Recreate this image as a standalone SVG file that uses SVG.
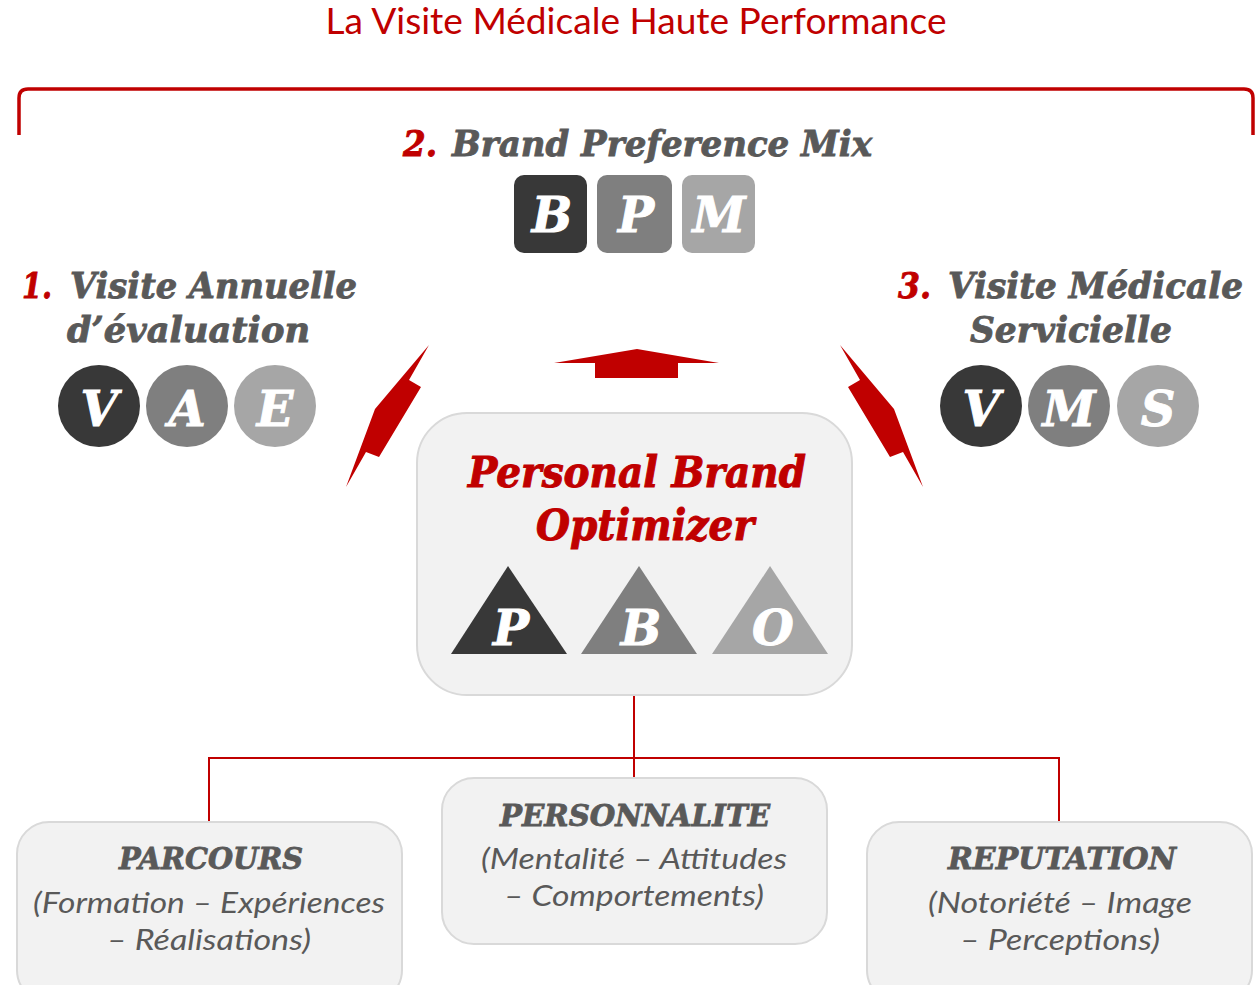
<svg xmlns="http://www.w3.org/2000/svg" width="1259" height="985" viewBox="0 0 1259 985">
<style>
.slab{font-family:"DejaVu Serif","Liberation Serif",serif;font-weight:bold;font-style:italic}
.head{fill:#595959;stroke:#595959;stroke-width:0.9;font-size:36px}
.num{fill:#c00000;stroke:#c00000;stroke-width:0.9;font-size:36px}
.let{fill:#ffffff;stroke:#ffffff;stroke-width:0.9;font-size:48px;text-anchor:middle}
.body{font-family:Lato,"Open Sans","Liberation Sans",sans-serif;font-style:italic;fill:#595959;font-size:29px;text-anchor:middle}
.box{fill:#f2f2f2;stroke:#d9d9d9;stroke-width:2}
.c1{fill:#383838}.c2{fill:#7f7f7f}.c3{fill:#a6a6a6}
.red{fill:#c00000}
.conn{fill:none;stroke:#c00000;stroke-width:2}
.pb{fill:#c00000;stroke:#c00000;stroke-width:1}
.sub{fill:#595959;stroke:#595959;stroke-width:0.8}
</style>
<rect width="1259" height="985" fill="#ffffff"/>
<text x="636" y="34" text-anchor="middle" font-family="Lato,'Open Sans','Liberation Sans',sans-serif" font-size="36" fill="#c00000" textLength="621" lengthAdjust="spacingAndGlyphs">La Visite Médicale Haute Performance</text>
<path d="M19,135 V98 Q19,89 28,89 H1244 Q1253,89 1253,98 V135" fill="none" stroke="#c00000" stroke-width="3.5"/>

<g id="bpm">
<text class="slab num" x="403" y="156" textLength="34" lengthAdjust="spacingAndGlyphs">2.</text>
<text class="slab head" x="452" y="156" textLength="420" lengthAdjust="spacingAndGlyphs">Brand Preference Mix</text>
<rect class="c1" x="514" y="175" width="73" height="78" rx="10"/>
<rect class="c2" x="597" y="175" width="75" height="78" rx="10"/>
<rect class="c3" x="682" y="175" width="73" height="78" rx="10"/>
<text class="slab let" x="552" y="232">B</text>
<text class="slab let" x="636" y="232">P</text>
<text class="slab let" x="719" y="232">M</text>
</g>

<g id="vae">
<text class="slab num" x="22" y="298" textLength="30" lengthAdjust="spacingAndGlyphs">1.</text>
<text class="slab head" x="70" y="298" textLength="287" lengthAdjust="spacingAndGlyphs">Visite Annuelle</text>
<text class="slab head" x="67" y="342" textLength="243" lengthAdjust="spacingAndGlyphs">d’évaluation</text>
<circle class="c1" cx="99" cy="406" r="41"/>
<circle class="c2" cx="187" cy="406" r="41"/>
<circle class="c3" cx="275" cy="406" r="41"/>
<text class="slab let" x="99" y="426">V</text>
<text class="slab let" x="187" y="426">A</text>
<text class="slab let" x="275" y="426">E</text>
</g>

<g id="vms">
<text class="slab num" x="898" y="298" textLength="33" lengthAdjust="spacingAndGlyphs">3.</text>
<text class="slab head" x="948" y="298" textLength="295" lengthAdjust="spacingAndGlyphs">Visite Médicale</text>
<text class="slab head" x="970" y="342" textLength="202" lengthAdjust="spacingAndGlyphs">Servicielle</text>
<circle class="c1" cx="981" cy="406" r="41"/>
<circle class="c2" cx="1069" cy="406" r="41"/>
<circle class="c3" cx="1158" cy="406" r="41"/>
<text class="slab let" x="981" y="426">V</text>
<text class="slab let" x="1069" y="426">M</text>
<text class="slab let" x="1158" y="426">S</text>
</g>

<g id="arrows">
<polygon class="red" points="429,345 409,380 421,387 379,457 366,452 346,487 375,409"/>
<polygon class="red" points="840,345 860,380 848,387 890,457 903,452 923,487 894,409"/>
<polygon class="red" points="637,349 719,363 678,363 678,378 595,378 595,363 554,363"/>
</g>

<g id="connectors">
<path class="conn" d="M634,695 V778"/>
<path class="conn" d="M209,822 V758 H1059 V822"/>
</g>

<g id="pbo">
<rect class="box" x="417" y="413" width="435" height="282" rx="50"/>
<text class="slab pb" x="637" y="487" text-anchor="middle" font-size="42" textLength="338" lengthAdjust="spacingAndGlyphs">Personal Brand</text>
<text class="slab pb" x="645" y="540" text-anchor="middle" font-size="42" textLength="218" lengthAdjust="spacingAndGlyphs">Optimizer</text>
<polygon class="c1" points="508,566 567,654 451,654"/>
<polygon class="c2" points="639,566 697,654 581,654"/>
<polygon class="c3" points="770,566 828,654 712,654"/>
<text class="slab let" x="511" y="645">P</text>
<text class="slab let" x="641" y="645">B</text>
<text class="slab let" x="773" y="645">O</text>
</g>

<g id="parcours">
<rect class="box" x="17" y="822" width="385" height="180" rx="32"/>
<text class="slab sub" x="211" y="869" text-anchor="middle" font-size="30" textLength="184" lengthAdjust="spacingAndGlyphs">PARCOURS</text>
<text class="body" x="209" y="913" textLength="352" lengthAdjust="spacingAndGlyphs">(Formation – Expériences</text>
<text class="body" x="209" y="950" textLength="204" lengthAdjust="spacingAndGlyphs">– Réalisations)</text>
</g>

<g id="personnalite">
<rect class="box" x="442" y="778" width="385" height="166" rx="32"/>
<text class="slab sub" x="635" y="826" text-anchor="middle" font-size="30" textLength="270" lengthAdjust="spacingAndGlyphs">PERSONNALITE</text>
<text class="body" x="634" y="869" textLength="306" lengthAdjust="spacingAndGlyphs">(Mentalité – Attitudes</text>
<text class="body" x="634" y="906" textLength="260" lengthAdjust="spacingAndGlyphs">– Comportements)</text>
</g>

<g id="reputation">
<rect class="box" x="867" y="822" width="385" height="180" rx="32"/>
<text class="slab sub" x="1062" y="869" text-anchor="middle" font-size="30" textLength="228" lengthAdjust="spacingAndGlyphs">REPUTATION</text>
<text class="body" x="1060" y="913" textLength="264" lengthAdjust="spacingAndGlyphs">(Notoriété – Image</text>
<text class="body" x="1060" y="950" textLength="200" lengthAdjust="spacingAndGlyphs">– Perceptions)</text>
</g>
</svg>
